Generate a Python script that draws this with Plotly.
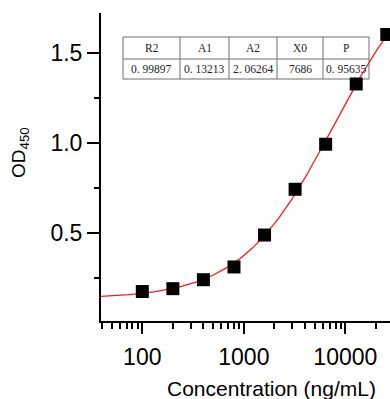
import numpy as np
import plotly.graph_objects as go

# ---- data ----
conc = [100, 200, 400, 800, 1600, 3200, 6400, 12800, 25600]
od450 = [0.172, 0.188, 0.238, 0.309, 0.487, 0.742, 0.993, 1.329, 1.605]

# 4-parameter logistic fit parameters shown in the table
fit_names = ["R2", "A1", "A2", "X0", "P"]
fit_texts = ["0. 99897", "0. 13213", "2. 06264", "7686", "0. 95635"]
R2, A1, A2, X0, P = 0.99897, 0.13213, 2.06264, 7686, 0.95635

x_major = [100, 1000, 10000]
x_major_text = ["100", "1000", "10000"]
x_minor = [40, 50, 60, 70, 80, 90, 200, 300, 400, 500, 600, 700, 800, 900,
           2000, 3000, 4000, 5000, 6000, 7000, 8000, 9000, 20000]
y_major = [0.5, 1.0, 1.5]
y_major_text = ["0.5", "1.0", "1.5"]
y_minor = [0.25, 0.75, 1.25]

# ---- layout geometry (pixels) ----
W, H = 390, 399
ML, MR, MT, MB = 101, 0, 13, 78
PW, PH = W - ML - MR, H - MT - MB

def px(xp):
    return (xp - ML) / PW

def py(yp):
    return (H - MB - yp) / PH

# fitted curve from the displayed parameters
xc = np.logspace(1.55, 4.5, 300)
yc = A2 + (A1 - A2) / (1 + (xc / X0) ** P)

fig = go.Figure()
fig.add_trace(go.Scatter(x=xc, y=yc, mode="lines",
                         line=dict(color="#ff1a1a", width=1.3),
                         hoverinfo="skip", showlegend=False))
fig.add_trace(go.Scatter(x=conc, y=od450, mode="markers",
                         marker=dict(symbol="square", size=13, color="black",
                                     line=dict(width=0)),
                         cliponaxis=False, showlegend=False))

# table
tbl_left, tbl_right = 123, 369
tbl_top, tbl_mid, tbl_bot = 37, 59, 79
col_edges = [123, 180, 229, 277, 323, 369]
shapes = []
line_style = dict(color="#6e6e6e", width=1)
shapes.append(dict(type="rect", xref="paper", yref="paper",
                   x0=px(tbl_left), x1=px(tbl_right), y0=py(tbl_bot), y1=py(tbl_top),
                   line=line_style, fillcolor="white", layer="below"))
shapes.append(dict(type="line", xref="paper", yref="paper",
                   x0=px(tbl_left), x1=px(tbl_right), y0=py(tbl_mid), y1=py(tbl_mid),
                   line=line_style, layer="below"))
for ce in col_edges[1:-1]:
    shapes.append(dict(type="line", xref="paper", yref="paper",
                       x0=px(ce), x1=px(ce), y0=py(tbl_bot), y1=py(tbl_top),
                       line=line_style, layer="below"))

annotations = []
tfont = dict(family="Liberation Serif, Times New Roman, serif", size=11.5, color="#222222")
for i in range(5):
    cx = (col_edges[i] + col_edges[i + 1]) / 2
    annotations.append(dict(x=px(cx), y=py((tbl_top + tbl_mid) / 2), xref="paper", yref="paper",
                            text=fit_names[i], showarrow=False, font=tfont,
                            xanchor="center", yanchor="middle"))
    annotations.append(dict(x=px(cx), y=py((tbl_mid + tbl_bot) / 2), xref="paper", yref="paper",
                            text=fit_texts[i], showarrow=False, font=tfont,
                            xanchor="center", yanchor="middle"))

# axis titles as annotations
afont = dict(family="Liberation Sans, Arial, sans-serif", size=21, color="black")
annotations.append(dict(x=px(271.5), y=py(388), xref="paper", yref="paper",
                        text="Concentration (ng/mL)", showarrow=False, font=afont,
                        xanchor="center", yanchor="middle"))
annotations.append(dict(x=px(20), y=py(153), xref="paper", yref="paper",
                        text="OD<sub>450</sub>", showarrow=False, textangle=-90,
                        font=dict(family="Liberation Sans, Arial, sans-serif", size=19, color="black"),
                        xanchor="center", yanchor="middle"))

tickfont = dict(family="Liberation Sans, Arial, sans-serif", size=23, color="black")

fig.update_layout(
    width=W, height=H,
    margin=dict(l=ML, r=MR, t=MT, b=MB, pad=0),
    paper_bgcolor="white", plot_bgcolor="white",
    shapes=shapes, annotations=annotations,
    xaxis=dict(type="log", range=[1.593, 4.440], showgrid=False, zeroline=False,
               showline=True, linecolor="black", linewidth=2,
               ticks="outside", ticklen=11, tickwidth=2, tickcolor="black",
               tickmode="array", tickvals=x_major, ticktext=x_major_text,
               tickfont=tickfont, ticklabelstandoff=3,
               minor=dict(tickmode="array", tickvals=x_minor, ticks="outside",
                          ticklen=6, tickwidth=2, tickcolor="black", showgrid=False)),
    yaxis=dict(range=[0.0078, 1.7246], showgrid=False, zeroline=False,
               showline=True, linecolor="black", linewidth=2,
               ticks="outside", ticklen=12, tickwidth=2, tickcolor="black",
               tickmode="array", tickvals=y_major, ticktext=y_major_text,
               tickfont=tickfont,
               minor=dict(tickmode="array", tickvals=y_minor, ticks="outside",
                          ticklen=5, tickwidth=2, tickcolor="black", showgrid=False)),
)

fig.write_html("out.html", config={"displayModeBar": False},
               post_script="document.body.style.margin='0';document.body.style.overflow='hidden';")
